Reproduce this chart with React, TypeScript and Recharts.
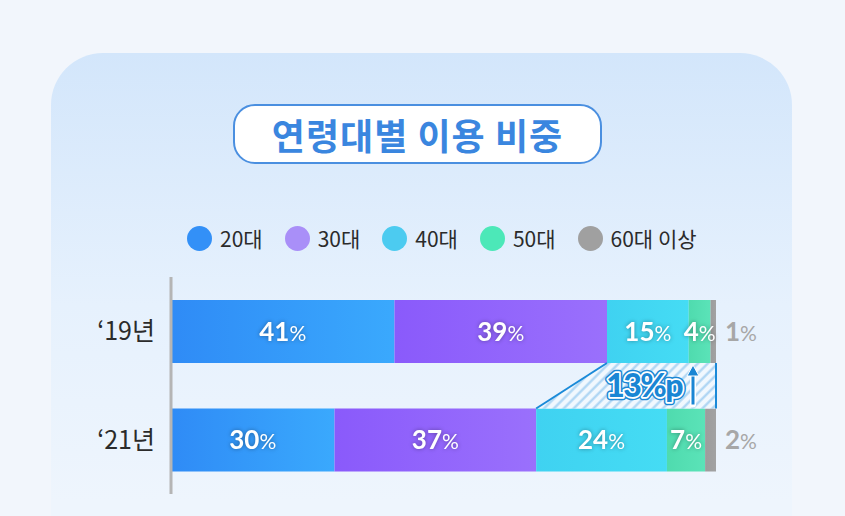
import { BarChart, Bar, XAxis, YAxis, LabelList } from 'recharts'

// 연령대별 이용 비중 (%)
const years = ['‘19년', '‘21년']
const ageGroups = ['20대', '30대', '40대', '50대', '60대 이상']
const share20s = [41, 30]
const share30s = [39, 37]
const share40s = [15, 24]
const share50s = [4, 7]
const share60s = [1, 2]
const shiftLabel = '13%p'

const seriesKeys = ['s20', 's30', 's40', 's50', 's60']
const seriesValues = [share20s, share30s, share40s, share50s, share60s]
const legendColors = ['#3390f7', '#a98ff8', '#4ccbf0', '#4ce8b8', '#a0a0a0']
const barGradients = [
    ['#2f8bf6', '#3aa9fd'],
    ['#8a5afb', '#9a70fc'],
    ['#3fd2f1', '#45dcf4'],
    ['#4fdbae', '#5be3b8'],
    ['#9c9c9c', '#a2a2a2'],
]

const data = years.map((year, i) => {
    const row: any = { year }
    seriesKeys.forEach((k, j) => { row[k] = seriesValues[j][i] })
    return row
})

const KR = '"Noto Sans CJK KR", "Noto Sans", sans-serif'
const NUM = 'Lato, "Noto Sans", sans-serif'
const BLUE = '#1a86d4'

// bar rects get stored here so the shift annotation can be drawn between the rows
const rects: Record<string, any[]> = {}

const ShiftOverlay = () => {
    const top = rects.s40?.[0]
    const bottom = rects.s40?.[1]
    const end21 = rects.s60?.[1]
    if (!top || !bottom || !end21) return null
    const yTop = top.y + top.height
    const yBottom = bottom.y
    const right = end21.x + end21.width
    const pts = `${bottom.x},${yBottom} ${top.x},${yTop} ${right},${yTop} ${right},${yBottom}`
    const midY = (yTop + yBottom) / 2
    const ax = right - 23
    const textProps = {
        x: right - 34,
        y: midY + 11,
        textAnchor: 'end' as const,
        fontFamily: NUM,
        fontWeight: 900,
        fontSize: 32,
        letterSpacing: -1.5,
    }
    return (
        <g>
            <polygon points={pts} fill="url(#hatch)" />
            <line x1={bottom.x} y1={yBottom} x2={top.x} y2={yTop} stroke="#1a8ad8" strokeWidth={2} />
            <line x1={right} y1={yTop} x2={right} y2={yBottom} stroke="#1a8ad8" strokeWidth={2} />
            <text {...textProps} fill={BLUE} stroke={BLUE} strokeWidth={6.5} strokeLinejoin="round">{shiftLabel}</text>
            <text {...textProps} fill={BLUE} stroke="#ffffff" strokeWidth={3.5} strokeLinejoin="round">{shiftLabel}</text>
            <text {...textProps} fill={BLUE}>{shiftLabel}</text>
            <line x1={ax} y1={yBottom - 4} x2={ax} y2={yTop + 8} stroke="#ffffff" strokeWidth={6} strokeLinecap="round" />
            <line x1={ax} y1={yBottom - 4} x2={ax} y2={yTop + 10} stroke={BLUE} strokeWidth={3} />
            <polygon
                points={`${ax},${yTop + 2} ${ax - 6},${yTop + 13} ${ax + 6},${yTop + 13}`}
                fill={BLUE}
                stroke="#ffffff"
                strokeWidth={1}
            />
        </g>
    )
}

const makeShape = (key: string, i: number) => (props: any) => {
    const { x, y, width, height, index } = props
    if (!rects[key]) rects[key] = []
    rects[key][index] = { x, y, width, height }
    return (
        <g>
            <rect x={x} y={y} width={width} height={height} fill={`url(#grad${i})`} />
            {key === 's60' && index === years.length - 1 ? <ShiftOverlay /> : null}
        </g>
    )
}

const insideLabel = (props: any) => {
    const { x, y, width, height, value } = props
    return (
        <text
            x={x + width / 2}
            y={y + height / 2 + 9}
            textAnchor="middle"
            fill="#ffffff"
            fontFamily={NUM}
            style={{ filter: 'drop-shadow(0 0 2px rgba(0,0,0,0.35))' }}
        >
            <tspan fontSize={26} fontWeight={700}>{value}</tspan>
            <tspan fontSize={21} fontWeight={400}>%</tspan>
        </text>
    )
}

const outsideLabel = (props: any) => {
    const { x, y, width, height, value } = props
    return (
        <text x={x + width + 9} y={y + height / 2 + 9} textAnchor="start" fill="#a7a7a7" fontFamily={NUM}>
            <tspan fontSize={26} fontWeight={700}>{value}</tspan>
            <tspan fontSize={21} fontWeight={400}>%</tspan>
        </text>
    )
}

const YearTick = (props: any) => {
    const { x, y, payload } = props
    return (
        <text x={x} y={y + 9} textAnchor="end" fill="#2b2b2b" fontFamily={KR} fontWeight={400} fontSize={25}>
            {payload.value}
        </text>
    )
}

export default function App() {
    return (
        <div
            style={{
                position: 'absolute',
                left: 0,
                top: 0,
                width: 845,
                height: 516,
                overflow: 'hidden',
                background: '#f2f6fc',
                fontFamily: KR,
            }}
        >
            {/* card */}
            <div
                style={{
                    position: 'absolute',
                    left: 51,
                    top: 53,
                    width: 741,
                    height: 560,
                    borderRadius: 52,
                    background: 'linear-gradient(180deg, #d3e6fb 0%, #e6f1fd 45%, #eef5fd 80%)',
                }}
            />

            {/* title pill */}
            <div
                style={{
                    position: 'absolute',
                    left: 233,
                    top: 104,
                    width: 369,
                    height: 60,
                    boxSizing: 'border-box',
                    border: '2.5px solid #4a8fe0',
                    borderRadius: 22,
                    background: '#ffffff',
                    display: 'flex',
                    alignItems: 'center',
                    justifyContent: 'center',
                    color: '#3a86df',
                    fontWeight: 700,
                    fontSize: 36,
                    letterSpacing: 1,
                }}
            >
                연령대별 이용 비중
            </div>

            {/* legend */}
            <div
                style={{
                    position: 'absolute',
                    left: 187,
                    top: 225,
                    height: 26,
                    display: 'flex',
                    alignItems: 'center',
                    gap: 22,
                }}
            >
                {ageGroups.map((g, i) => (
                    <div key={g} style={{ display: 'flex', alignItems: 'center' }}>
                        <div style={{ width: 25, height: 25, borderRadius: 13, background: legendColors[i], marginRight: 8 }} />
                        <span style={{ fontSize: 21, fontWeight: 400, color: '#2b2b2b', lineHeight: '26px' }}>{g}</span>
                    </div>
                ))}
            </div>

            <div style={{ position: 'absolute', left: 0, top: 0 }}>
                <BarChart
                    width={845}
                    height={516}
                    data={data}
                    layout="vertical"
                    margin={{ top: 277, right: 129, bottom: 22, left: 0 }}
                >
                    <defs>
                        {barGradients.map((g, i) => (
                            <linearGradient key={i} id={`grad${i}`} x1="0" y1="0" x2="1" y2="0">
                                <stop offset="0%" stopColor={g[0]} />
                                <stop offset="100%" stopColor={g[1]} />
                            </linearGradient>
                        ))}
                        <pattern id="hatch" width="7" height="7" patternUnits="userSpaceOnUse" patternTransform="rotate(45)">
                            <rect width="7" height="7" fill="#f1f8fe" />
                            <line x1="1.5" y1="0" x2="1.5" y2="7" stroke="#aad3f3" strokeWidth="2.2" />
                        </pattern>
                    </defs>
                    <XAxis type="number" domain={[0, 100]} hide />
                    <YAxis
                        type="category"
                        dataKey="year"
                        width={171}
                        axisLine={{ stroke: '#b5b5b5', strokeWidth: 3 }}
                        tickLine={false}
                        tickSize={0}
                        tickMargin={16}
                        tick={<YearTick />}
                    />
                    {seriesKeys.map((k, i) => (
                        <Bar
                            key={k}
                            dataKey={k}
                            name={ageGroups[i]}
                            stackId="share"
                            barSize={63}
                            isAnimationActive={false}
                            shape={makeShape(k, i)}
                        >
                            <LabelList dataKey={k} content={i === seriesKeys.length - 1 ? outsideLabel : insideLabel} />
                        </Bar>
                    ))}
                </BarChart>
            </div>
        </div>
    )
}
